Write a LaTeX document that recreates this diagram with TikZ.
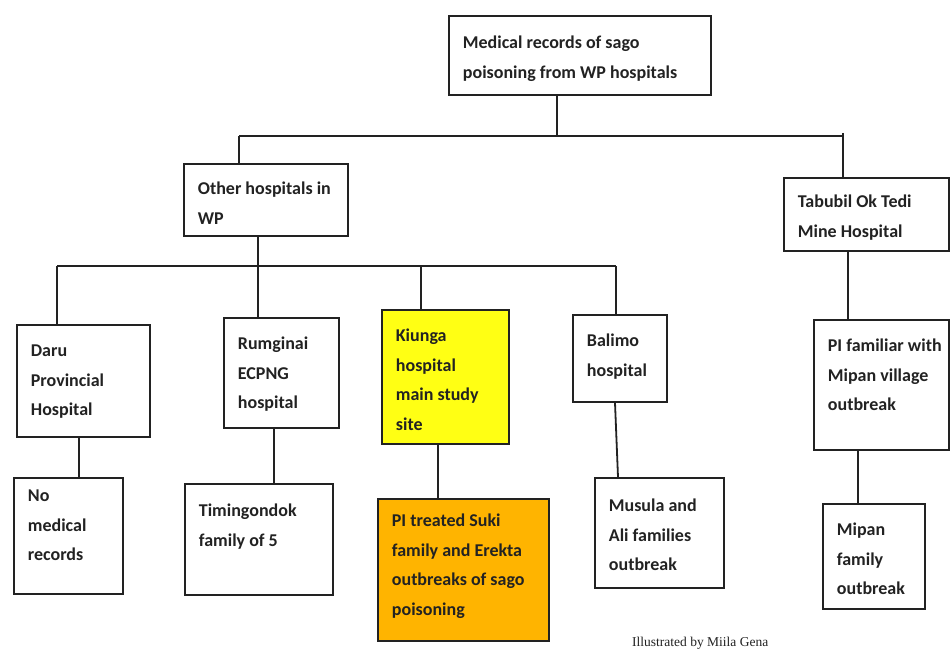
\documentclass[tikz,border=0pt]{standalone}
\usepackage{fontspec}
\setmainfont{Carlito}
\newfontfamily\creditfont{Liberation Serif}
% text block of a box: width, height, top padding, lines
\newcommand\cellbox[4]{\parbox[c][#2pt][t]{#1pt}{\vspace*{#3pt}\leftskip=14pt\parindent=0pt\strut #4}}
\definecolor{ink}{HTML}{222222}
\definecolor{sitefill}{HTML}{FFFF14}
\definecolor{outbreakfill}{HTML}{FFB400}
\begin{document}
\begin{tikzpicture}[x=1pt,y=-1pt,
  cell/.style={draw=ink, line width=1.8pt, inner sep=0pt, anchor=north west,
    text=ink, font={\fontsize{18}{29.5}\selectfont\bfseries}},
  wire/.style={draw=ink, line width=1.8pt}]
\useasboundingbox (0,0) rectangle (951,650);
\fill[white] (0,0) rectangle (951,650);

% top level
\node[cell] (top) at (448,15) {\cellbox{262}{79}{12}{Medical records of sago\\poisoning from WP hospitals}};
\node[cell] (other) at (183,163) {\cellbox{164}{72}{10}{Other hospitals in\\WP}};
\node[cell] (tab) at (783,177) {\cellbox{165}{73}{9}{Tabubil Ok Tedi\\Mine Hospital}};

% hospitals
\node[cell] (daru) at (16,324) {\cellbox{133}{112}{11}{Daru\\Provincial\\Hospital}};
\node[cell] (rum) at (223,317) {\cellbox{115}{110}{11}{Rumginai\\ECPNG\\hospital}};
\node[cell, fill=sitefill] (kiu) at (381,309) {\cellbox{127}{134}{11}{Kiunga\\hospital\\main study\\site}};
\node[cell] (bal) at (572,314) {\cellbox{94}{87}{11}{Balimo\\hospital}};
\node[cell] (pif) at (813,319) {\cellbox{135}{130}{11}{PI familiar with\\Mipan village\\outbreak}};

% outcomes
\node[cell] (nomed) at (13,477) {\cellbox{109}{116}{3}{No\\medical\\records}};
\node[cell] (tim) at (184,483) {\cellbox{148}{111}{12}{Timingondok\\family of 5}};
\node[cell, fill=outbreakfill] (suki) at (377,498) {\cellbox{171}{142}{7}{PI treated Suki\\family and Erekta\\outbreaks of sago\\poisoning}};
\node[cell] (mus) at (594,477) {\cellbox{129}{110}{13}{Musula and\\Ali families\\outbreak}};
\node[cell] (mip) at (822,503) {\cellbox{102}{105}{11}{Mipan\\family\\outbreak}};

% junction points of the two buses
\coordinate (trunk) at (557,136);
\coordinate (busL) at (239,136);
\coordinate (busR) at (843,136);
\coordinate (drop) at (258,266);
\coordinate (b2L) at (57,266);
\coordinate (b2K) at (421,266);
\coordinate (b2R) at (616,266);
% x positions of the lower links
\coordinate (xd) at (79,0);
\coordinate (xr) at (274,0);
\coordinate (xk) at (438,0);
\coordinate (xb1) at (615,0);
\coordinate (xb2) at (618,0);
\coordinate (xt) at (848,0);
\coordinate (xp) at (858,0);

% first level
\draw[wire] (trunk |- top.south) -- (trunk);
\draw[wire] (busL) -- (busR);
\draw[wire] (busL) -- (busL |- other.north);
\draw[wire] ([yshift=3pt]busR) -- (busR |- tab.north);

% second level
\draw[wire] (drop |- other.south) -- (drop |- rum.north);
\draw[wire] (b2L) -- (b2R);
\draw[wire] (b2L) -- (b2L |- daru.north);
\draw[wire] (b2K) -- (b2K |- kiu.north);
\draw[wire] (b2R) -- (b2R |- bal.north);

% hospital to outcome
\draw[wire] (xd |- daru.south) -- (xd |- nomed.north);
\draw[wire] (xr |- rum.south) -- (xr |- tim.north);
\draw[wire] (xk |- kiu.south) -- (xk |- suki.north);
\draw[wire] (xb1 |- bal.south) -- (xb2 |- mus.north);
\draw[wire] (xt |- tab.south) -- (xt |- pif.north);
\draw[wire] (xp |- pif.south) -- (xp |- mip.north);

\node[anchor=base west, inner sep=0pt, text=ink, font={\creditfont\fontsize{13.5}{15}\selectfont}] (credit) at (632,646) {Illustrated by Miila Gena};
\end{tikzpicture}
\end{document}
